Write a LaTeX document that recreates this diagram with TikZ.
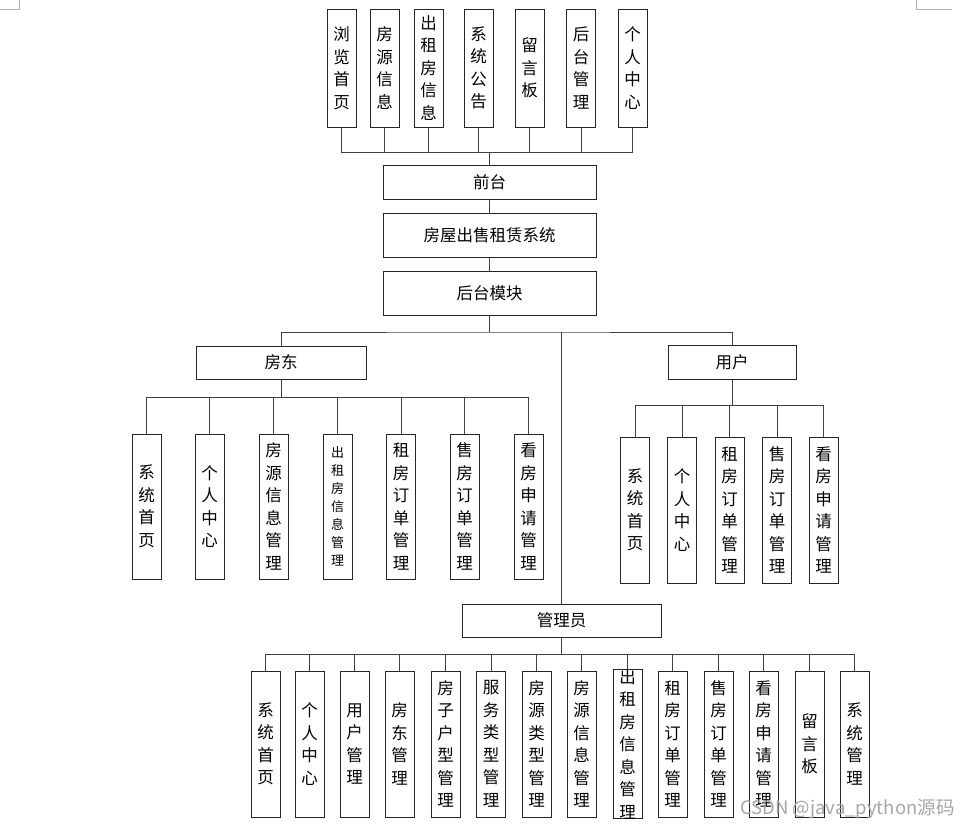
\documentclass[tikz,border=0pt]{standalone}
\usepackage{fontspec}
\newfontfamily\cjk{Noto Sans CJK SC}
\begin{document}
\begin{tikzpicture}[x=1pt,y=-1pt,
  every node/.style={font=\cjk\fontsize{16.5}{22.5}\selectfont, inner sep=0pt, align=center},
  box/.style={draw=black!85, line width=1pt, fill=white},
  tall/.style={box, minimum width=29pt},
  small/.style={font=\cjk\fontsize{13}{18}\selectfont},
  link/.style={draw=black!75, line width=1pt}]
\useasboundingbox (0,0) rectangle (970,827);
\draw[black!30, line width=0.8pt] (19,0) -- (19,9) -- (0,9);
\draw[black!30, line width=0.8pt] (916,0) -- (916,9) -- (952,9);

% top row
\foreach \n/\x/\t in {t1/341.5/浏\\览\\首\\页, t2/384.5/房\\源\\信\\息, t3/428.5/出\\租\\房\\信\\息, t4/478.5/系\\统\\公\\告, t5/529.5/留\\言\\板, t6/581/后\\台\\管\\理, t7/632.5/个\\人\\中\\心}
  \node[tall, minimum height=118pt] (\n) at (\x,68) {\t};

\node[box, minimum width=213pt, minimum height=34pt] (qt) at (489.5,182) {前台};
\node[box, minimum width=213pt, minimum height=44pt] (sys) at (489.5,235) {房屋出售租赁系统};
\node[box, minimum width=213pt, minimum height=44pt] (ht) at (489.5,293) {后台模块};

\coordinate (bt) at (489.5,152);
\foreach \n in {t1,t2,t3,t4,t5,t6,t7} \draw[link] (\n.south) |- (bt);
\draw[link] (bt) -- (qt.north);
\draw[link] (qt.south) -- (sys.north);
\draw[link] (sys.south) -- (ht.north);

% second level
\node[box, minimum width=170pt, minimum height=33pt] (fd) at (281,362.5) {房东};
\node[box, minimum width=128pt, minimum height=34pt] (yh) at (732,362) {用户};
\node[box, minimum width=199pt, minimum height=33pt] (gly) at (561.5,620.5) {管理员};

\coordinate (j1) at (489.5,332);
\draw[link] (ht.south) -- (j1);
\draw[link] (fd.north) |- (j1) -| (yh.north);
\draw[link] (j1 -| gly.north) -- (gly.north);

% landlord children
\coordinate (bf) at (281,397);
\foreach \n/\x/\t in {f1/146.5/系\\统\\首\\页, f2/209.5/个\\人\\中\\心, f3/273.5/房\\源\\信\\息\\管\\理, f5/401/租\\房\\订\\单\\管\\理, f6/464.5/售\\房\\订\\单\\管\\理, f7/528.5/看\\房\\申\\请\\管\\理}
  \node[tall, minimum height=145pt] (\n) at (\x,506.5) {\t};
\node[tall, small, minimum height=145pt] (f4) at (337.5,506.5) {出\\租\\房\\信\\息\\管\\理};
\draw[link] (fd.south) -- (bf);
\foreach \n in {f1,f2,f3,f4,f5,f6,f7} \draw[link] (\n.north) |- (bf);

% user children
\coordinate (bu) at (732,405);
\foreach \n/\x/\t in {u1/635/系\\统\\首\\页, u2/682/个\\人\\中\\心, u3/729.5/租\\房\\订\\单\\管\\理, u4/777/售\\房\\订\\单\\管\\理, u5/823.5/看\\房\\申\\请\\管\\理}
  \node[tall, minimum height=146pt] (\n) at (\x,510) {\t};
\draw[link] (yh.south) -- (bu);
\foreach \n in {u1,u2,u3,u4,u5} \draw[link] (\n.north) |- (bu);

% admin children
\coordinate (ba) at (561.5,654);
\foreach \n/\x/\t in {a1/265.5/系\\统\\首\\页, a2/309.5/个\\人\\中\\心, a3/354.5/用\\户\\管\\理, a4/399.5/房\\东\\管\\理, a5/445.5/房\\子\\户\\型\\管\\理, a6/491/服\\务\\类\\型\\管\\理, a7/536.5/房\\源\\类\\型\\管\\理, a8/581.5/房\\源\\信\\息\\管\\理, a9/627.5/出\\租\\房\\信\\息\\管\\理, a10/672.5/租\\房\\订\\单\\管\\理, a11/718.5/售\\房\\订\\单\\管\\理, a12/763.5/看\\房\\申\\请\\管\\理, a13/809.5/留\\言\\板, a14/854.5/系\\统\\管\\理}
  \node[tall, minimum height=146pt] (\n) at (\x,744) {\t};
\draw[link] (gly.south) -- (ba);
\foreach \n in {a1,a2,a3,a4,a5,a6,a7,a8,a9,a10,a11,a12,a13,a14} \draw[link] (\n.north) |- (ba);

\node[anchor=base west, text=black!35, font=\cjk\fontsize{18.5}{20}\selectfont] (wm) at (740,814) {CSDN @java\_python源码};
\end{tikzpicture}
\end{document}
